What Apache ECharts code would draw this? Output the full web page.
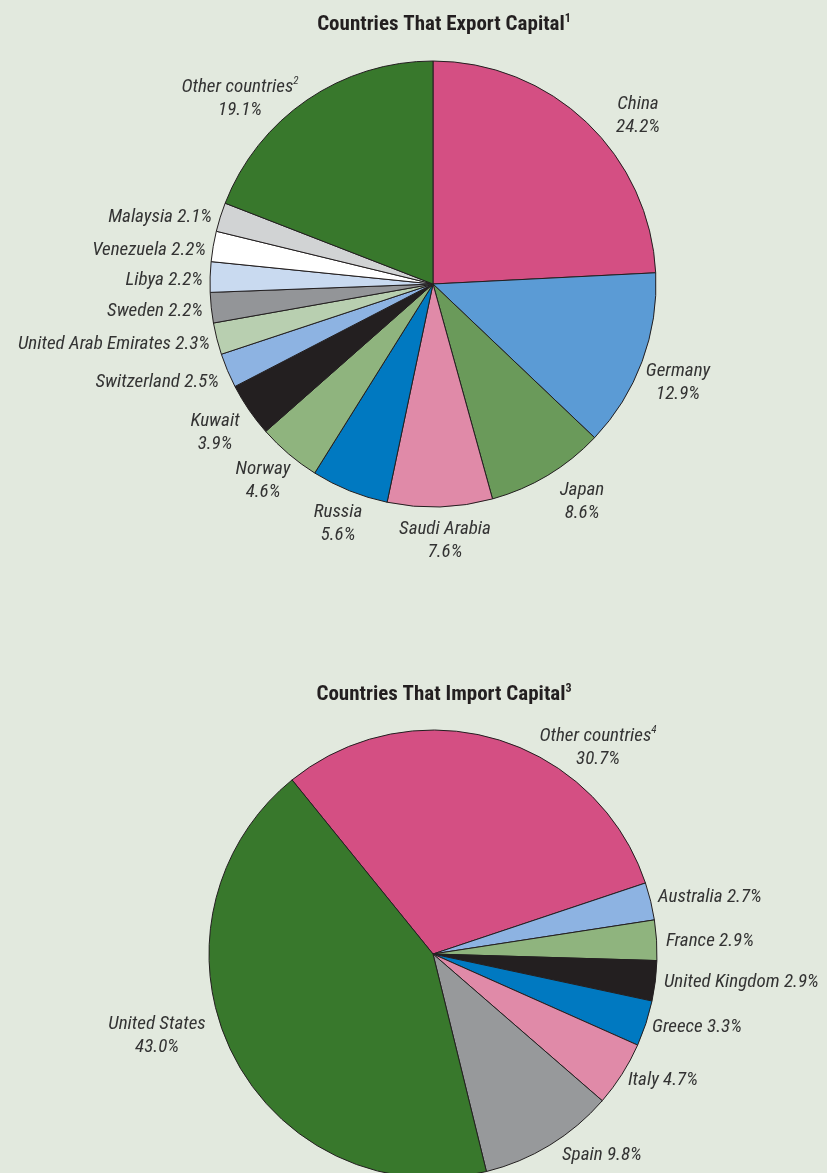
<!DOCTYPE html>
<html>
<head>
<meta charset="utf-8">
<script src="https://cdn.jsdelivr.net/npm/echarts@6/dist/echarts.min.js"></script>
<style>
html,body{margin:0;padding:0;background:#e2e9de;}
#c{width:827px;height:1173px;}
</style>
</head>
<body>
<div id="c"></div>
<script>
// ---- Data ----
const exportNames = ['China','Germany','Japan','Saudi Arabia','Russia','Norway','Kuwait','Switzerland','United Arab Emirates','Sweden','Libya','Venezuela','Malaysia','Other countries'];
const exportValues = [24.2,12.9,8.6,7.6,5.6,4.6,3.9,2.5,2.3,2.2,2.2,2.2,2.1,19.1];
const importNames = ['Other countries','Australia','France','United Kingdom','Greece','Italy','Spain','United States'];
const importValues = [30.7,2.7,2.9,2.9,3.3,4.7,9.8,43.0];
const exportTitle = 'Countries That Export Capital';
const importTitle = 'Countries That Import Capital';

// ---- Styles / layout ----
const exportColors = ['#d44f83','#5b9bd5','#6a9a5a','#e08aa8','#0079c1','#8fb47e','#231f20','#8db3e2','#b8cfb0','#939598','#c9daf0','#ffffff','#d1d3d4','#38782c'];
const importColors = ['#d44f83','#8db3e2','#8fb47e','#231f20','#0079c1','#e08aa8','#97999b','#38782c'];
// label style: 'two' = name over value (centered), 'l' = single line right-aligned, 'r' = single line left-aligned
const exportLabelMode = ['two','two','two','two','two','two','two','l','l','l','l','l','l','two'];
const exportLabelPos = [[638,116],[678,383],[582,502],[445,541],[338,524],[263,481],[215,433],[219,382],[210,344],[203,311],[203,280],[206,250],[212,217],[240,99]];
const exportSup = {13:'2'};
const importLabelMode = ['two','r','r','r','r','r','r','two'];
const importLabelPos = [[598,748],[658,897],[666,941],[664,982],[652,1027],[628,1080],[562,1155],[157,1036]];
const importSup = {0:'4'};

const FONT = "'Liberation Sans Narrow','Roboto Condensed','Liberation Sans',Roboto,sans-serif";

function fmt(names, vals, modes, sups){
  return function(p){
    const i = p.dataIndex;
    const name = names[i] + (sups[i] ? '{s|' + sups[i] + '}' : '');
    const v = vals[i].toFixed(1) + '%';
    if (modes[i] === 'two') return '{t|' + name.replace(/\{s\|(\d)\}/,'}{s|$1}{t|') + '}\n{t|' + v + '}';
    return '{t|' + name + ' ' + v + '}';
  };
}

const rich = {
  t:{fontFamily:FONT,fontStyle:'italic',fontSize:19,color:'#333333',lineHeight:23},
  s:{fontFamily:FONT,fontStyle:'italic',fontSize:11,color:'#333333',verticalAlign:'top',lineHeight:23,padding:[0,0,9,0]}
};

function layoutFn(posArr, modes){
  return function(params){
    const i = params.dataIndex;
    const m = modes[i];
    return {
      x: posArr[i][0], y: posArr[i][1],
      align: m === 'two' ? 'center' : (m === 'l' ? 'right' : 'left'),
      verticalAlign: 'middle',
      hideOverlap: false, moveOverlap: null
    };
  };
}

function mkData(names, vals, colors){
  return names.map((n,i)=>({name:n, value:vals[i], itemStyle:{color:colors[i]}}));
}

const titleStyle = {fontFamily:FONT,fontWeight:'bold',fontSize:21,color:'#231f20',
  rich:{s:{fontFamily:FONT,fontWeight:'bold',fontSize:12,color:'#231f20',verticalAlign:'top',padding:[0,0,11,0]}}};

const chart = echarts.init(document.getElementById('c'), null, {renderer:'canvas'});
chart.setOption({
  backgroundColor:'#e2e9de',
  animation:false,
  title:[
    {text: exportTitle + '{s|1}', left:439, top:8, textAlign:'center', textStyle:titleStyle},
    {text: importTitle + '{s|3}', left:439, top:678, textAlign:'center', textStyle:titleStyle}
  ],
  series:[
    {type:'pie', center:[433,284], radius:223, startAngle:90, clockwise:true,
     data: mkData(exportNames, exportValues, exportColors),
     itemStyle:{borderColor:'#231f20',borderWidth:1},
     label:{show:true, position:'outside', overflow:'none', formatter: fmt(exportNames, exportValues, exportLabelMode, exportSup), rich: rich},
     labelLine:{show:false},
     labelLayout: layoutFn(exportLabelPos, exportLabelMode),
     emphasis:{disabled:true}},
    {type:'pie', center:[433,954], radius:224, startAngle:129, clockwise:true,
     data: mkData(importNames, importValues, importColors),
     itemStyle:{borderColor:'#231f20',borderWidth:1},
     label:{show:true, position:'outside', overflow:'none', formatter: fmt(importNames, importValues, importLabelMode, importSup), rich: rich},
     labelLine:{show:false},
     labelLayout: layoutFn(importLabelPos, importLabelMode),
     emphasis:{disabled:true}}
  ]
});
</script>
</body>
</html>
